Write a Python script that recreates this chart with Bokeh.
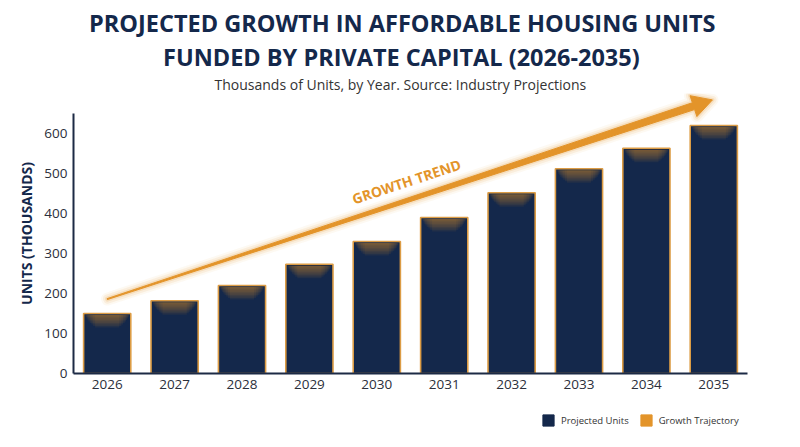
import math
from bokeh.plotting import figure
from bokeh.layouts import column
from bokeh.models import (FactorRange, Range1d, Title, Legend, LegendItem,
                          FixedTicker, ColumnDataSource)
from bokeh.embed import file_html
from bokeh.resources import INLINE
from bokeh.core.properties import value

# ---------------- data ----------------
years = ["2026", "2027", "2028", "2029", "2030",
         "2031", "2032", "2033", "2034", "2035"]
units = [150, 182, 220, 273, 330, 390, 452, 512, 563, 620]
y_ticks = [0, 100, 200, 300, 400, 500, 600]
trend_values = [186, 684]          # growth-trend arrow, start / tip (thousands)
series_names = ["Projected Units", "Growth Trajectory"]

title_line1 = "PROJECTED GROWTH IN AFFORDABLE HOUSING UNITS"
title_line2 = "FUNDED BY PRIVATE CAPITAL (2026-2035)"
subtitle = "Thousands of Units, by Year. Source: Industry Projections"
y_label = "UNITS (THOUSANDS)"
trend_label = "GROWTH TREND"

# ---------------- style ----------------
NAVY = "#14284b"
AXIS = "#1c2a45"
ORANGE = "#e3942a"
BAR_EDGE = "#dc9c45"
TICK = "#2b2f3b"
FONT = "Open Sans"

FW, FH = 674, 280
Y_MAX = 700

p = figure(x_range=FactorRange(*years), y_range=Range1d(0, Y_MAX),
           frame_width=FW, frame_height=FH, title=None,
           output_backend="svg", toolbar_location=None,
           min_border_left=73, min_border_right=53,
           min_border_top=93, min_border_bottom=27)
p.outline_line_color = None
p.xgrid.visible = False
p.ygrid.visible = False
p.background_fill_color = "white"
p.border_fill_color = "white"

for ax in (p.xaxis, p.yaxis):
    ax.axis_line_color = AXIS
    ax.axis_line_width = 2
    ax.major_tick_line_color = None
    ax.minor_tick_line_color = None
    ax.major_tick_out = 0
    ax.major_tick_in = 0
    ax.major_label_text_font = FONT
    ax.major_label_text_font_size = "13.5px"
    ax.major_label_text_color = TICK
p.xaxis.major_label_standoff = 6
p.yaxis.major_label_standoff = 6
p.yaxis.ticker = FixedTicker(ticks=y_ticks)
p.yaxis.bounds = (0, 650)
p.yaxis.axis_label = y_label
p.yaxis.axis_label_text_font = FONT
p.yaxis.axis_label_text_font_style = "bold"
p.yaxis.axis_label_text_font_size = "14px"
p.yaxis.axis_label_text_color = NAVY
p.yaxis.axis_label_standoff = 5

# ---------------- bars ----------------
src = ColumnDataSource(dict(year=years, units=units))
p.vbar(x="year", top="units", width=0.7, source=src,
       fill_color=NAVY, line_color=BAR_EDGE, line_width=1.6)

# soft glow under each bar top
SY = FH / Y_MAX
SX = FW / len(years)
glow = [(2, 0.66), (3.5, 0.64), (5, 0.62), (6.5, 0.59), (8, 0.56),
        (9.5, 0.52), (11, 0.47), (12.5, 0.42), (14, 0.36)]
for depth_px, w in glow:
    p.vbar(x=years, top=[u - 1.5 / SY for u in units],
           bottom=[u - depth_px / SY for u in units], width=w,
           fill_color=ORANGE, fill_alpha=0.075, line_color=None)

# ---------------- trend arrow ----------------
x0, y0 = 0.5 * SX, trend_values[0] * SY
x1, y1 = 9.48 * SX, trend_values[1] * SY
dx, dy = x1 - x0, y1 - y0
L = math.hypot(dx, dy)
ux, uy = dx / L, dy / L
nx, ny = -uy, ux
head_len, head_half, tail_half, shaft_half = 20, 11, 0.5, 3.6
bx, by = x1 - ux * head_len, y1 - uy * head_len
pts = [(x0 + nx * tail_half, y0 + ny * tail_half),
       (bx + nx * shaft_half, by + ny * shaft_half),
       (bx + nx * head_half, by + ny * head_half),
       (x1, y1),
       (bx - nx * head_half, by - ny * head_half),
       (bx - nx * shaft_half, by - ny * shaft_half),
       (x0 - nx * tail_half, y0 - ny * tail_half)]
ax_ = [q[0] / SX for q in pts]
ay_ = [q[1] / SY for q in pts]
for lw, la in [(12, 0.06), (8, 0.1), (4, 0.18)]:
    p.patch(ax_, ay_, fill_color=None, line_color=ORANGE, line_width=lw,
            line_alpha=la, line_join="round")
p.patch(ax_, ay_, fill_color=ORANGE, line_color=ORANGE, line_width=1)

ang = math.atan2(dy, dx)
p.text(x=[4.94], y=[480], text=[trend_label], angle=ang,
       text_font=value(FONT), text_font_style="bold", text_font_size="14px",
       text_color=ORANGE, text_align="center", text_baseline="middle")

# ---------------- titles ----------------
p.add_layout(Title(text=subtitle, align="left", offset=141, text_font=FONT,
                   text_font_size="14px", text_font_style="normal",
                   text_color="#333333", standoff=0), "above")
p.add_layout(Title(text=title_line2, align="left", offset=89.5,
                   text_font=FONT, text_font_size="23.5px",
                   text_font_style="bold", text_color=NAVY, standoff=0), "above")
p.add_layout(Title(text=title_line1, align="left", offset=15.5,
                   text_font=FONT, text_font_size="23.5px",
                   text_font_style="bold", text_color=NAVY, standoff=0), "above")

# ---------------- legend strip under the chart ----------------
lf = figure(width=800, height=47, x_range=Range1d(0, 674), y_range=Range1d(0, 47),
            output_backend="svg", toolbar_location=None, min_border=0,
            x_axis_location=None, y_axis_location=None, title=None)
lf.outline_line_color = None
lf.grid.visible = False
lf.background_fill_color = "white"
lf.border_fill_color = "white"
# off-screen proxies, only their styles are used by the legend
r_units = lf.vbar(x=[-100], top=[-50], bottom=[-60], width=10,
                  fill_color=NAVY, line_color=NAVY)
r_trend = lf.patch([-100, -90, -90], [-60, -60, -50],
                   fill_color=ORANGE, line_color=ORANGE, line_width=1)
legend = Legend(items=[LegendItem(label=series_names[0], renderers=[r_units]),
                       LegendItem(label=series_names[1], renderers=[r_trend])],
                orientation="horizontal", location=(468, 20), margin=0,
                padding=0, spacing=10, glyph_width=14, glyph_height=14,
                label_standoff=6, label_height=14,
                label_text_font=FONT, label_text_font_size="9.5px",
                label_text_color="#333333", border_line_color=None,
                background_fill_alpha=0)
lf.add_layout(legend)

layout = column(p, lf, spacing=0)
open("out.html", "w").write(file_html(layout, INLINE))
